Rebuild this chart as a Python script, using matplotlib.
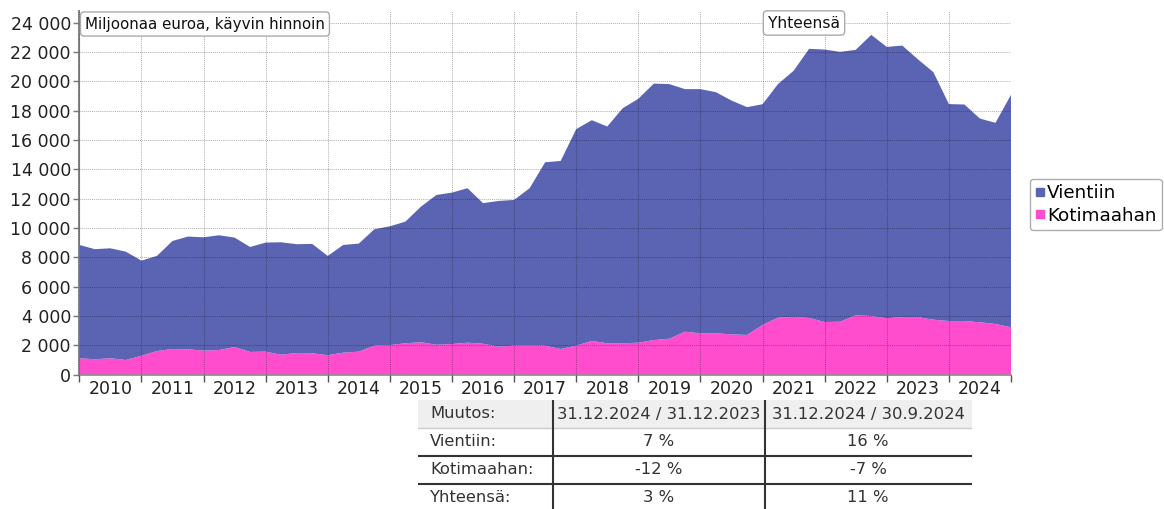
import numpy as np
import matplotlib
matplotlib.use('Agg')
import matplotlib.pyplot as plt
from matplotlib.lines import Line2D
from matplotlib.patches import Rectangle
from matplotlib.ticker import FuncFormatter

# neljännesvuodet 31.12.2009 ... 31.12.2024
vuodet = [str(v) for v in range(2010, 2025)]

vientiin = [7730, 7510, 7500, 7390, 6490, 6490, 7370, 7690, 7730, 7830,
            7460, 7160, 7440, 7670, 7420, 7460, 6770, 7350, 7370, 7940,
            8100, 8300, 9250, 10220, 10330, 10540, 9590, 9940, 9940, 10740,
            12510, 12830, 14770, 15060, 14790, 16040, 16640, 17500, 17370, 16550,
            16660, 16450, 15950, 15540, 15060, 15940, 16790, 18360, 18590, 18410,
            18110, 19180, 18510, 18520, 17590, 16890, 14800, 14770, 13900, 13720,
            15860]
kotimaahan = [1110, 1040, 1110, 990, 1280, 1600, 1740, 1720, 1630, 1670,
              1880, 1540, 1560, 1350, 1470, 1450, 1320, 1490, 1560, 1970,
              2010, 2130, 2200, 2030, 2080, 2170, 2100, 1900, 1970, 1970,
              1970, 1740, 1970, 2290, 2130, 2130, 2170, 2350, 2440, 2920,
              2810, 2810, 2740, 2700, 3380, 3880, 3930, 3860, 3580, 3600,
              4040, 3990, 3840, 3920, 3920, 3740, 3650, 3650, 3560, 3450,
              3220]

taulu_otsikot = ["Muutos:", "31.12.2024 / 31.12.2023", "31.12.2024 / 30.9.2024"]
taulu_rivit = ["Vientiin:", "Kotimaahan:", "Yhteensä:"]
muutos_vuosi = ["7 %", "-12 %", "3 %"]
muutos_nelj = ["16 %", "-7 %", "11 %"]

sininen = '#5b63b3'
pinkki = '#ff4dce'

W, H = 1164, 509
fig = plt.figure(figsize=(W / 100, H / 100), dpi=100)
ax = fig.add_axes([79.3 / W, 1 - 374.5 / H, (1011 - 79.3) / W, (374.5 - 11) / H])

x = np.arange(len(vientiin))
ax.stackplot(x, kotimaahan, vientiin, colors=[pinkki, sininen], linewidth=0)

ax.set_xlim(0, len(x) - 1)
ax.set_ylim(0, 24800)
ax.set_yticks(np.arange(0, 24001, 2000))
ax.yaxis.set_major_formatter(FuncFormatter(lambda v, p: f"{v:,.0f}".replace(",", " ")))

ax.set_xticks(np.arange(0, len(x), 4))
ax.set_xticklabels([])
ax.set_xticks(np.arange(2, len(x), 4), minor=True)
ax.set_xticklabels(vuodet, minor=True)
ax.tick_params(axis='x', which='major', length=5, width=1, color='#555555')
ax.tick_params(axis='x', which='minor', length=0, pad=4, labelsize=12.5, labelcolor='#222222')
ax.tick_params(axis='y', length=4, width=1, color='#777777', labelsize=12.5, labelcolor='#222222', pad=2)

ax.set_axisbelow(False)
ax.grid(True, which='major', color='black', alpha=0.3, linestyle=(0, (1, 1)), linewidth=0.75)

for s in ['top', 'right']:
    ax.spines[s].set_visible(False)
ax.spines['left'].set_color('#888888')
ax.spines['left'].set_linewidth(1.5)
ax.spines['bottom'].set_color('#888888')
ax.spines['bottom'].set_linewidth(1.2)

laatikko = dict(boxstyle='round,pad=0.3,rounding_size=0.25', fc='white', ec='#aaaaaa', lw=1)
fig.text(85 / W, 1 - 24 / H, "Miljoonaa euroa, käyvin hinnoin", fontsize=10.9,
         va='center', ha='left', color='#111111', bbox=laatikko)
fig.text(804 / W, 1 - 23 / H, "Yhteensä", fontsize=11.2,
         va='center', ha='center', color='#111111', bbox=laatikko)

kahvat = [Line2D([], [], marker='s', ls='', color=sininen, markersize=6),
          Line2D([], [], marker='s', ls='', color=pinkki, markersize=6)]
fig.legend(kahvat, ["Vientiin", "Kotimaahan"], loc='center right',
           bbox_to_anchor=(1162 / W, 1 - 204.5 / H), fontsize=13.2,
           handlelength=0.5, handletextpad=0.15, borderpad=0.3, labelspacing=0.25,
           borderaxespad=0, frameon=True, fancybox=True, edgecolor='#999999')

# muutostaulukko
tx = fig.add_axes([418 / W, 0, (972 - 418) / W, (509 - 400) / H])
tx.set_xlim(418, 972)
tx.set_ylim(509, 400)
tx.axis('off')
tx.add_patch(Rectangle((418, 400), 554, 28, color='#efefef', lw=0))
tx.plot([418, 972], [428, 428], color='#cccccc', lw=1)
for yy in [456, 484]:
    tx.plot([418, 972], [yy, yy], color='#333333', lw=1.5)
for xx in [553, 765]:
    tx.plot([xx, xx], [400, 509], color='#333333', lw=1.5)

fs = 11.8
tx.text(430, 414, taulu_otsikot[0], fontsize=fs, va='center', ha='left', color='#333333')
tx.text(659, 414, taulu_otsikot[1], fontsize=fs, va='center', ha='center', color='#333333')
tx.text(868, 414, taulu_otsikot[2], fontsize=fs, va='center', ha='center', color='#333333')
for i, nimi in enumerate(taulu_rivit):
    yy = 442 + 28 * i
    tx.text(430, yy, nimi, fontsize=fs, va='center', ha='left', color='#333333')
    tx.text(659, yy, muutos_vuosi[i], fontsize=fs, va='center', ha='center', color='#333333')
    tx.text(868, yy, muutos_nelj[i], fontsize=fs, va='center', ha='center', color='#333333')

fig.savefig('out.png', dpi=100)
